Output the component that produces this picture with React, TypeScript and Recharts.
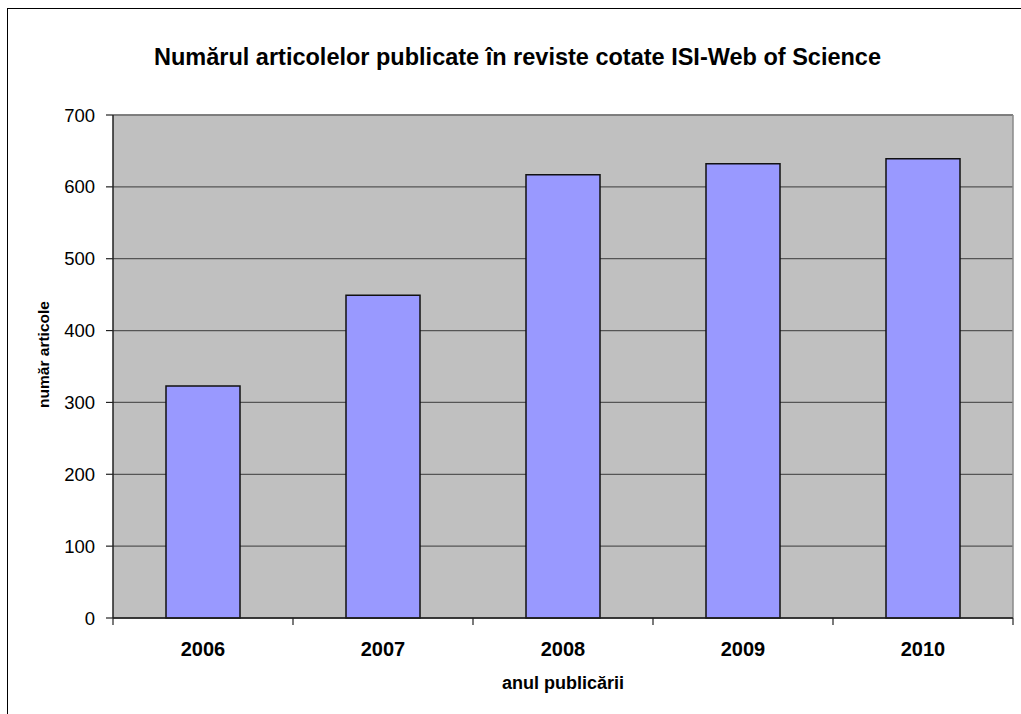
import React from 'react';
import { BarChart, Bar, XAxis, YAxis, CartesianGrid, ReferenceLine } from 'recharts';

const years = ['2006', '2007', '2008', '2009', '2010'];
const articles = [323, 449, 617, 632, 639];
const slots = [0, 1, 2, 3, 4];
const yTicks = [0, 100, 200, 300, 400, 500, 600, 700];
const boundaryTicks = [0, 1, 2, 3, 4, 5];
const chartTitle = 'Numărul articolelor publicate în reviste cotate ISI-Web of Science';
const xTitle = 'anul publicării';
const yTitle = 'număr articole';

const data = years.map((year, i) => ({ year, articles: articles[i], slot: slots[i] }));

const FONT = 'Arial, "Liberation Sans", Helvetica, sans-serif';

export default function App() {
  return (
    <div style={{ position: 'absolute', left: 0, top: 0, width: 1021, height: 714, fontFamily: FONT }}>
      <div
        style={{
          position: 'absolute',
          left: 7,
          top: 8,
          width: 1020,
          height: 720,
          borderTop: '1px solid #000',
          borderLeft: '1px solid #000',
          boxSizing: 'border-box',
        }}
      />
      <div
        style={{
          position: 'absolute',
          left: 8,
          top: 46,
          width: 1019,
          textAlign: 'center',
          fontSize: 23.5,
          fontWeight: 'bold',
          lineHeight: 1,
          color: '#000',
          whiteSpace: 'nowrap',
        }}
      >
        {chartTitle}
      </div>
      <div style={{ position: 'absolute', left: 8, top: 9 }}>
        <BarChart
          width={1013}
          height={705}
          data={data}
          margin={{ top: 106, right: 8, bottom: 0, left: 0 }}
          barSize={74}
        >
          <CartesianGrid
            xAxisId="axisB"
            vertical={false}
            stroke="#555"
            strokeWidth={1.3}
            fill="#C0C0C0"
            fillOpacity={1}
          />
          <XAxis
            xAxisId="axisB"
            dataKey="year"
            height={95}
            axisLine={false}
            tickLine={false}
            tickSize={0}
            tickMargin={23}
            tick={{ fill: '#000', fontSize: 20, fontWeight: 'bold', fontFamily: FONT }}
            label={{
              content: (props: any) => {
                const vb = props.viewBox;
                return (
                  <text
                    x={vb.x + vb.width / 2}
                    y={vb.y + 70}
                    textAnchor="middle"
                    fontSize={18}
                    fontWeight="bold"
                    fontFamily={FONT}
                    fill="#000"
                  >
                    {xTitle}
                  </text>
                );
              },
            }}
          />
          <XAxis
            xAxisId="axisA"
            dataKey="slot"
            type="number"
            domain={[0, 5]}
            ticks={boundaryTicks}
            allowDataOverflow
            height={1}
            tickSize={7}
            tickFormatter={() => ''}
            axisLine={{ stroke: '#222', strokeWidth: 1.5 }}
            tickLine={{ stroke: '#222', strokeWidth: 1.2 }}
          />
          <YAxis
            domain={[0, 700]}
            ticks={yTicks}
            width={105}
            interval={0}
            tickSize={7}
            tickMargin={11}
            axisLine={{ stroke: '#222', strokeWidth: 1.5 }}
            tickLine={{ stroke: '#222', strokeWidth: 1.2 }}
            tick={{ fill: '#000', fontSize: 18.5, fontFamily: FONT }}
            label={{
              content: (props: any) => {
                const vb = props.viewBox;
                const cx = vb.x + 35;
                const cy = vb.y + vb.height / 2 - 12;
                return (
                  <text
                    x={cx}
                    y={cy}
                    transform={`rotate(-90, ${cx}, ${cy})`}
                    textAnchor="middle"
                    dominantBaseline="central"
                    fontSize={15.5}
                    fontWeight="bold"
                    fontFamily={FONT}
                    fill="#000"
                  >
                    {yTitle}
                  </text>
                );
              },
            }}
          />
          <ReferenceLine xAxisId="axisB" y={700} stroke="#808080" strokeWidth={1.5} />
          <ReferenceLine xAxisId="axisA" x={5} stroke="#8a8a8a" strokeWidth={1.5} />
          <Bar
            xAxisId="axisB"
            dataKey="articles"
            fill="#9999FF"
            stroke="#111"
            strokeWidth={1.5}
            isAnimationActive={false}
          />
        </BarChart>
      </div>
    </div>
  );
}
